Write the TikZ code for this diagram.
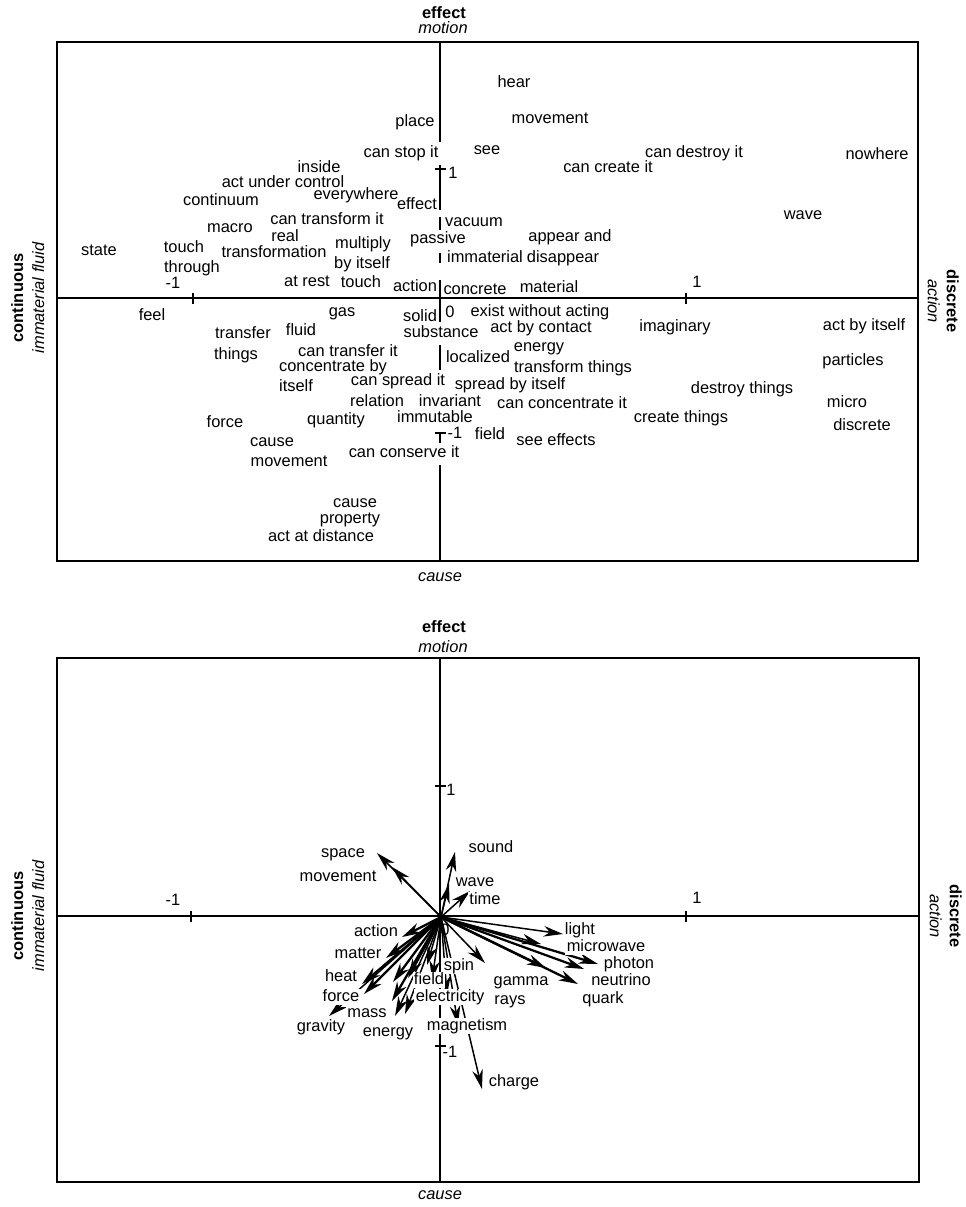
\documentclass[tikz,border=0pt]{standalone}
\usepackage{fontspec}
\setmainfont{Liberation Sans}
\usetikzlibrary{arrows.meta}
\begin{document}
\begin{tikzpicture}[x=0.02cm,y=-0.02cm,
  lbl/.style={font=\fontsize{9.35}{11}\selectfont, inner sep=0pt, text height=6.7pt, text depth=1.9pt},
  bold/.style={lbl, font=\fontsize{9.35}{11}\selectfont\bfseries},
  ital/.style={lbl, font=\fontsize{9.35}{11}\selectfont\itshape},
  ko/.style={lbl, fill=white, inner xsep=0.8pt, inner ysep=0.4pt},
  frame/.style={line width=0.8pt},
  axis/.style={line width=0.75pt},
  vec/.style={line width=0.85pt, -{Stealth[length=11pt,width=6pt,inset=3.5pt]}},
  hvec/.style={vec, line width=1.3pt},
]
\useasboundingbox (0,0) rectangle (966,1207);

% ================= upper map: words =================
\coordinate (ATL) at (57,42);
\coordinate (ABR) at (918,561);
\draw[frame] (ATL) rectangle (ABR);
\coordinate (AxL) at (57,298);
\coordinate (AxR) at (918,298);
\draw[axis] (AxL) -- (AxR);
\draw[axis] (193,293) -- (193,304);
\draw[axis] (686,293) -- (686,304);
% vertical axis, interrupted by the words lying on it
\draw[axis] (440,42) -- (440,142);
\draw[axis] (440,165) -- (440,210);
\draw[axis] (435,169) -- (446,169);
\draw[axis] (440,217) -- (440,230);
\draw[axis] (440,253) -- (440,263);
\draw[axis] (440,280) -- (440,322);
\draw[axis] (440,345) -- (440,370);
\draw[axis] (440,433) -- (440,443);
\draw[axis] (435,433) -- (446,433);
\draw[axis] (440,465) -- (440,561);

\node[bold] (aeffect) at (444,14) {effect};
\node[ital] (amotion) at (443,29) {motion};
\node[ital] (acause) at (440,577) {cause};
\node[bold, rotate=90] (acont) at (19,298) {continuous};
\node[ital, rotate=90] (aimfl) at (40,298) {immaterial fluid};
\node[bold, rotate=-90] (adisc) at (951,301) {discrete};
\node[ital, rotate=-90] (aact) at (932,301) {action};

\node[lbl] (axm1) at (173,284) {-1};
\node[lbl] (axp1) at (697,283) {1};
\node[lbl] (ayp1) at (453,174) {1};
\node[lbl] (aym1) at (455,434) {-1};

\node[lbl] (w01) at (415,122) {place};
\node[lbl] (w02) at (514,83) {hear};
\node[lbl] (w03) at (550,119) {movement};
\node[lbl] (w04) at (487,150) {see};
\node[lbl] (w05) at (401,153) {can stop it};
\node[lbl] (w06) at (694,153) {can destroy it};
\node[lbl] (w07) at (608,168) {can create it};
\node[lbl] (w08) at (877,155) {nowhere};
\node[lbl] (w09) at (319,168) {inside};
\node[lbl] (w10) at (283,183) {act under control};
\node[lbl] (w11) at (356,195) {everywhere};
\node[lbl] (w12) at (221,201) {continuum};
\node[lbl] (w13) at (417,205) {effect};
\node[lbl] (w14) at (327,220) {can transform it};
\node[lbl] (w15) at (474,222) {vacuum};
\node[lbl] (w16) at (803,215) {wave};
\node[lbl] (w17) at (230,228) {macro};
\node[lbl] (w18) at (285,237) {real};
\node[lbl] (w19) at (438,239) {passive};
\node[lbl] (w20) at (570,237) {appear and};
\node[lbl] (w21) at (363,244) {multiply};
\node[lbl] (w22) at (99,251) {state};
\node[lbl] (w23) at (184,248) {touch};
\node[lbl] (w24) at (274,253) {transformation};
\node[lbl] (w25) at (485,258) {immaterial};
\node[lbl] (w26) at (563,258) {disappear};
\node[lbl] (w27) at (192,268) {through};
\node[lbl] (w28) at (362,264) {by itself};
\node[lbl] (w29) at (307,282) {at rest};
\node[lbl] (w30) at (361,283) {touch};
\node[lbl] (w31) at (415,287) {action};
\node[lbl] (w32) at (475,290) {concrete};
\node[lbl] (w33) at (549,288) {material};
\node[lbl] (w34) at (152,316) {feel};
\node[lbl] (w35) at (342,312) {gas};
\node[lbl] (w36) at (420,317) {solid};
\node[lbl] (w37) at (450,313) {0};
\node[lbl] (w38) at (540,312) {exist without acting};
\node[lbl] (w39) at (541,328) {act by contact};
\node[lbl] (w40) at (675,327) {imaginary};
\node[lbl] (w41) at (864,326) {act by itself};
\node[lbl] (w42) at (243,334) {transfer};
\node[lbl] (w43) at (301,331) {fluid};
\node[lbl] (w44) at (441,333) {substance};
\node[lbl] (w45) at (539,347) {energy};
\node[lbl] (w46) at (236,355) {things};
\node[lbl] (w47) at (348,352) {can transfer it};
\node[lbl] (w48) at (478,358) {localized};
\node[lbl] (w49) at (853,361) {particles};
\node[lbl] (w50) at (333,367) {concentrate by};
\node[lbl] (w51) at (573,368) {transform things};
\node[lbl] (w52) at (398,381) {can spread it};
\node[lbl] (w53) at (296,387) {itself};
\node[lbl] (w54) at (510,385) {spread by itself};
\node[lbl] (w55) at (742,389) {destroy things};
\node[lbl] (w56) at (377,402) {relation};
\node[lbl] (w57) at (450,402) {invariant};
\node[lbl] (w58) at (562,404) {can concentrate it};
\node[lbl] (w59) at (847,403) {micro};
\node[lbl] (w60) at (225,423) {force};
\node[lbl] (w61) at (336,420) {quantity};
\node[lbl] (w62) at (435,418) {immutable};
\node[lbl] (w63) at (681,418) {create things};
\node[lbl] (w64) at (862,426) {discrete};
\node[lbl] (w65) at (490,435) {field};
\node[lbl] (w66) at (556,441) {see effects};
\node[lbl] (w67) at (272,442) {cause};
\node[lbl] (w68) at (289,462) {movement};
\node[lbl] (w69) at (404,453) {can conserve it};
\node[lbl] (w70) at (355,503) {cause};
\node[lbl] (w71) at (350,519) {property};
\node[lbl] (w72) at (321,537) {act at distance};

% ================= lower map: concepts as vectors =================
\coordinate (BTL) at (57,658);
\coordinate (BBR) at (919,1182);
\draw[frame] (BTL) rectangle (BBR);
\coordinate (BxL) at (57,916);
\coordinate (BxR) at (919,916);
\coordinate (ByT) at (440,658);
\coordinate (ByB) at (440,1182);
\draw[axis] (BxL) -- (BxR);
\draw[axis] (ByT) -- (ByB);
\draw[axis] (191,911) -- (191,922);
\draw[axis] (686,911) -- (686,922);
\draw[axis] (435,786) -- (446,786);
\draw[axis] (435,1046) -- (446,1046);

\node[bold] (beffect) at (444,628) {effect};
\node[ital] (bmotion) at (443,648) {motion};
\node[ital] (bcause) at (440,1195) {cause};
\node[bold, rotate=90] (bcont) at (19,916) {continuous};
\node[ital, rotate=90] (bimfl) at (40,916) {immaterial fluid};
\node[bold, rotate=-90] (bdisc) at (954,916) {discrete};
\node[ital, rotate=-90] (bact) at (934,916) {action};
\node[lbl] (bxm1) at (173,901) {-1};
\node[lbl] (bxp1) at (697,899) {1};
\node[lbl] (byp1) at (451,791) {1};
\node[lbl] (bym1) at (450,1053) {-1};
\node[lbl] (bzero) at (445,931) {0};

\coordinate (O) at (441,917);
% upward vectors
\coordinate (tSpace) at (377,853);
\coordinate (tMove) at (392,867);
\coordinate (tSound) at (455,852);
\coordinate (tWave) at (449,884);
\coordinate (tTime) at (470,891);
\draw[vec] (O) -- (tSpace);
\draw[vec] (O) -- (tMove);
\draw[vec] (O) -- (tSound);
\draw[vec] (O) -- (tWave);
\draw[vec] (O) -- (tTime);
% right-hand bundle
\coordinate (tLight) at (563,934);
\coordinate (tMicro) at (541,944);
\coordinate (tPhoton) at (598,964);
\coordinate (tNeutr) at (584,969);
\coordinate (tGamma) at (546,968);
\coordinate (tQuark) at (578,984);
\coordinate (tSpin) at (485,963);
\coordinate (tCharge) at (482,1089);
\draw[vec] (O) -- (tLight);
\draw[vec] (O) -- (tMicro);
\draw[hvec] (O) -- (tPhoton);
\draw[hvec] (O) -- (tNeutr);
\draw[hvec] (O) -- (tGamma);
\draw[hvec] (O) -- (tQuark);
\draw[vec] (O) -- (tSpin);
\draw[vec] (O) -- (tCharge);
% left-hand bundle
\coordinate (tAction) at (402,937);
\coordinate (tMatter) at (386,958);
\coordinate (tHeat) at (362,984);
\coordinate (tForce) at (364,994);
\coordinate (tMass) at (392,1001);
\coordinate (tEnergy) at (395,1016);
\coordinate (tGrav) at (329,1016);
\coordinate (tField) at (405,1014);
\coordinate (tX1) at (408,978);
\coordinate (tX2) at (393,982);
\coordinate (tX3) at (427,965);
\coordinate (tElec) at (447,995);
\coordinate (tMagn) at (458,1025);
\coordinate (tFld) at (432,980);
\draw[hvec] (O) -- (tAction);
\draw[hvec] (O) -- (tMatter);
\draw[hvec] (O) -- (tHeat);
\draw[hvec] (O) -- (tForce);
\draw[hvec] (O) -- (tMass);
\draw[vec] (O) -- (tEnergy);
\draw[vec] (O) -- (tGrav);
\draw[vec] (O) -- (tField);
\draw[hvec] (O) -- (tX1);
\draw[hvec] (O) -- (tX2);
\draw[vec] (O) -- (tX3);
\draw[vec] (O) -- (tElec);
\draw[vec] (O) -- (tMagn);
\draw[vec] (O) -- (tFld);

% labels, cut out of the lines beneath them
\node[ko] (lSpace) at (343,853) {space};
\node[ko] (lMove) at (338,877) {movement};
\node[ko] (lSound) at (491,848) {sound};
\node[ko] (lWave) at (475,882) {wave};
\node[ko] (lTime) at (485,900) {time};
\node[ko] (lLight) at (580,930) {light};
\node[ko] (lMicro) at (606,947) {microwave};
\node[ko] (lPhoton) at (629,964) {photon};
\node[ko] (lNeutr) at (621,981) {neutrino};
\node[ko] (lQuark) at (603,999) {quark};
\node[ko] (lGamma) at (521,981) {gamma};
\node[ko] (lRays) at (510,1000) {rays};
\node[ko] (lSpin) at (459,966) {spin};
\node[ko] (lField) at (429,980) {field};
\node[ko] (lElec) at (450,997) {electricity};
\node[ko] (lMagn) at (467,1026) {magnetism};
\node[ko] (lCharge) at (514,1082) {charge};
\node[ko] (lAction) at (376,932) {action};
\node[ko] (lMatter) at (358,954) {matter};
\node[ko] (lHeat) at (341,977) {heat};
\node[ko] (lForce) at (341,997) {force};
\node[ko] (lMass) at (367,1013) {mass};
\node[ko] (lGrav) at (321,1027) {gravity};
\node[ko] (lEnergy) at (388,1032) {energy};
\end{tikzpicture}
\end{document}
